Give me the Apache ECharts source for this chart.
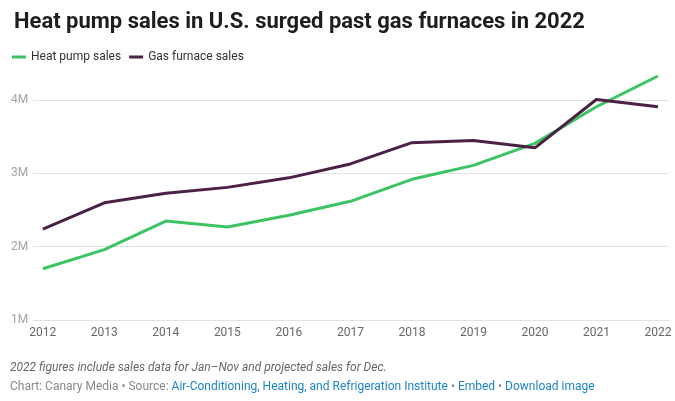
<!DOCTYPE html>
<html>
<head>
<meta charset="utf-8">
<script src="https://cdn.jsdelivr.net/npm/echarts@6/dist/echarts.min.js"></script>
<style>
html,body{margin:0;padding:0;background:#fff;}
#chart{width:675px;height:401px;}
</style>
</head>
<body>
<div id="chart"></div>
<script>
const years = [2012, 2013, 2014, 2015, 2016, 2017, 2018, 2019, 2020, 2021, 2022];
const heatPump = [1.70, 1.96, 2.35, 2.27, 2.43, 2.62, 2.92, 3.11, 3.41, 3.91, 4.33];
const gasFurnace = [2.24, 2.60, 2.73, 2.81, 2.94, 3.13, 3.42, 3.45, 3.35, 4.01, 3.91];
const yTicks = [1, 2, 3, 4];

const M = 1e6;
const chart = echarts.init(document.getElementById('chart'));
const font = 'Roboto, "Noto Sans", sans-serif';
chart.setOption({
  animation: false,
  textStyle: { fontFamily: font },
  title: {
    text: 'Heat pump sales in U.S. surged past gas furnaces in 2022',
    left: 9, top: 6,
    textStyle: { fontFamily: font, fontSize: 22, fontWeight: 'bold', color: '#1d1d1d' }
  },
  legend: {
    left: 7, top: 46,
    itemWidth: 14, itemHeight: 3, itemGap: 8,
    icon: 'rect',
    textStyle: { fontFamily: font, fontSize: 12, color: '#333', padding: [0, 0, 0, 0] },
    data: ['Heat pump sales', 'Gas furnace sales']
  },
  grid: { left: 33, right: 6, top: 76, bottom: 81 },
  xAxis: {
    type: 'value',
    min: 2011.84, max: 2022.18,
    axisLine: { show: false },
    axisTick: { show: false },
    splitLine: { show: false },
    axisLabel: {
      customValues: years,
      formatter: v => String(Math.round(v)),
      color: '#666', fontSize: 12, margin: 7, fontFamily: font
    }
  },
  yAxis: {
    type: 'value',
    min: 1 * M, max: 4.33 * M, interval: 1 * M,
    axisLine: { show: false },
    axisTick: { show: false },
    splitLine: { lineStyle: { color: '#e2e2e2', width: 1 }, showMaxLine: false },
    axisLabel: {
      customValues: yTicks.map(v => v * M),
      formatter: v => (v / M) + 'M',
      align: 'left', margin: 22,
      color: '#a3a3a3', fontSize: 12, fontFamily: font
    }
  },
  series: [
    {
      name: 'Heat pump sales', type: 'line', symbol: 'none',
      lineStyle: { width: 3, color: '#3cc463' }, itemStyle: { color: '#3cc463' },
      data: years.map((y, i) => [y, heatPump[i] * M]),
      z: 2
    },
    {
      name: 'Gas furnace sales', type: 'line', symbol: 'none',
      lineStyle: { width: 3, color: '#4b2145' }, itemStyle: { color: '#4b2145' },
      data: years.map((y, i) => [y, gasFurnace[i] * M]),
      z: 3
    }
  ],
  graphic: [
    {
      type: 'text', left: 10, top: 362,
      style: {
        text: '2022 figures include sales data for Jan\u2013Nov and projected sales for Dec.',
        fontFamily: font, fontSize: 12, fontStyle: 'italic', fill: '#666'
      }
    },
    {
      type: 'text', left: 10, top: 381,
      style: {
        text: '{g|Chart: Canary Media \u2022 Source: }{b|Air-Conditioning, Heating, and Refrigeration Institute}{g| \u2022 }{b|Embed}{g| \u2022 }{b|Download image}',
        fontFamily: font, fontSize: 12,
        rich: {
          g: { fill: '#888', fontFamily: font, fontSize: 12 },
          b: { fill: '#1d84c6', fontFamily: font, fontSize: 12 }
        }
      }
    }
  ]
});
</script>
</body>
</html>
